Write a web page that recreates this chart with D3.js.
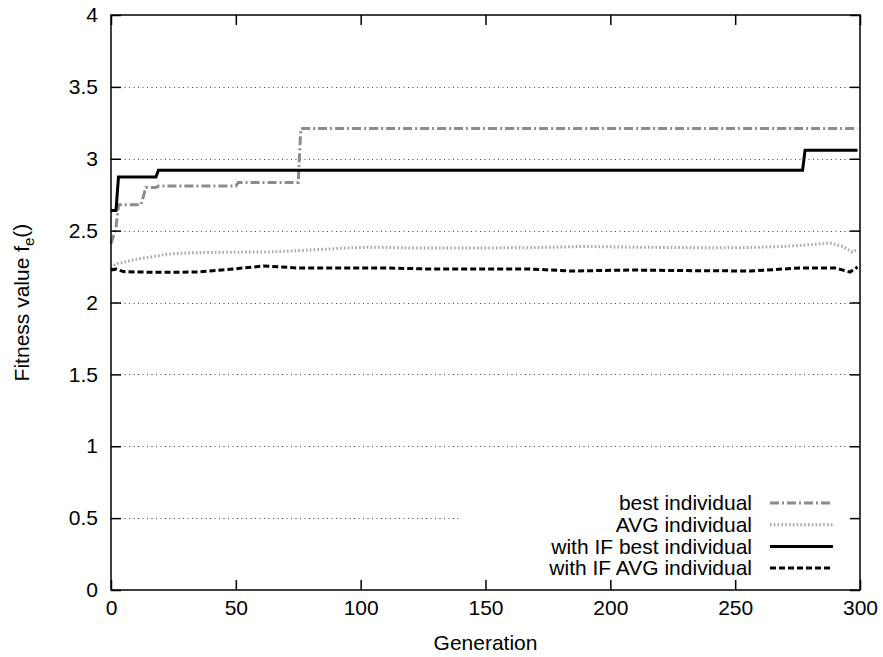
<!DOCTYPE html>
<html>
<head>
<meta charset="utf-8">
<script src="https://cdn.jsdelivr.net/npm/d3@7"></script>
<style>
  html, body { margin: 0; padding: 0; background: #fff; }
  svg { display: block; font-family: "Liberation Sans", Arial, Helvetica, sans-serif; }
</style>
</head>
<body>
<svg id="chart" width="883" height="657"></svg>
<script>
// ---- data ----
const xTicks = [0, 50, 100, 150, 200, 250, 300];
const yTicks = [0, 0.5, 1, 1.5, 2, 2.5, 3, 3.5, 4];
const yTickLabels = ["0", "0.5", "1", "1.5", "2", "2.5", "3", "3.5", "4"];

const seriesNames = ["best individual", "AVG individual", "with IF best individual", "with IF AVG individual"];

const bestGen = [0, 2, 3, 12, 14, 18, 19, 50, 51, 75, 76, 299];
const bestVal = [2.41, 2.52, 2.68, 2.68, 2.80, 2.80, 2.81, 2.81, 2.835, 2.835, 3.21, 3.21];

const avgGen = [0, 2, 4, 10, 16, 22, 29, 45, 62, 80, 94, 105, 120, 148, 170, 190, 208, 230, 250, 270, 282, 288, 293, 297, 299];
const avgVal = [2.24, 2.27, 2.275, 2.30, 2.317, 2.335, 2.344, 2.35, 2.351, 2.365, 2.379, 2.385, 2.379, 2.379, 2.382, 2.39, 2.385, 2.382, 2.38, 2.39, 2.405, 2.414, 2.39, 2.351, 2.37];

const ifBestGen = [0, 2, 3, 18, 19, 277, 278, 299];
const ifBestVal = [2.64, 2.64, 2.873, 2.873, 2.92, 2.92, 3.06, 3.06];

const ifAvgGen = [0, 2, 5, 10, 20, 35, 50, 61, 75, 94, 110, 128, 150, 168, 184, 208, 230, 256, 276, 290, 296, 299];
const ifAvgVal = [2.226, 2.232, 2.215, 2.212, 2.21, 2.212, 2.235, 2.254, 2.24, 2.24, 2.24, 2.233, 2.233, 2.233, 2.219, 2.226, 2.222, 2.219, 2.24, 2.24, 2.212, 2.247];

(function () {
// ---- layout ----
const svg = d3.select("#chart");
const mLeft = 111, mRight = 860, mTop = 15, mBottom = 590;
const x = d3.scaleLinear().domain([0, 300]).range([mLeft, mRight]);
const y = d3.scaleLinear().domain([0, 4]).range([mBottom, mTop]);
const fontSize = 21;

// legend box extent (opaque key in gnuplot)
const keyLeft = 460, keyTop = 482;

// grid
const grid = svg.append("g");
yTicks.filter(v => v > 0 && v < 4).forEach(v => {
  const xEnd = (y(v) > keyTop) ? keyLeft : mRight;
  grid.append("line")
    .attr("x1", mLeft).attr("x2", xEnd)
    .attr("y1", Math.round(y(v)) + 0.5).attr("y2", Math.round(y(v)) + 0.5)
    .attr("stroke", "#444").attr("stroke-width", 1)
    .attr("stroke-dasharray", "1,3.5");
});

// series
const series = [
  { name: seriesNames[0], gen: bestGen, val: bestVal, color: "#8c8c8c", dash: "9,3,2,3", width: 3 },
  { name: seriesNames[1], gen: avgGen, val: avgVal, color: "#a8a8a8", dash: "1.6,2.2", width: 3 },
  { name: seriesNames[2], gen: ifBestGen, val: ifBestVal, color: "#000000", dash: null, width: 3 },
  { name: seriesNames[3], gen: ifAvgGen, val: ifAvgVal, color: "#000000", dash: "6,3", width: 3 }
];

const line = d3.line().x(d => x(d[0])).y(d => y(d[1]));
const plot = svg.append("g");
series.forEach(s => {
  const pts = s.gen.map((g, i) => [g, s.val[i]]);
  plot.append("path")
    .attr("d", line(pts))
    .attr("fill", "none")
    .attr("stroke", s.color)
    .attr("stroke-width", s.width)
    .attr("stroke-linejoin", "miter")
    .attr("stroke-dasharray", s.dash);
});

// legend (opaque)
svg.append("rect")
  .attr("x", keyLeft).attr("y", keyTop)
  .attr("width", mRight - keyLeft - 1).attr("height", mBottom - keyTop - 1)
  .attr("fill", "#fff");
const legend = svg.append("g");
const rowY0 = 503, rowStep = 21.7;
series.forEach((s, i) => {
  const ry = rowY0 + i * rowStep;
  legend.append("text")
    .attr("x", 752).attr("y", ry)
    .attr("dy", "0.35em")
    .attr("text-anchor", "end")
    .attr("font-size", fontSize)
    .attr("fill", "#000")
    .text(s.name);
  legend.append("line")
    .attr("x1", 770).attr("x2", 833)
    .attr("y1", ry).attr("y2", ry)
    .attr("stroke", s.color)
    .attr("stroke-width", s.width)
    .attr("stroke-dasharray", s.dash);
});

// axes (ticks pointing inward, mirrored)
const axL = d3.axisLeft(y).tickValues(yTicks).tickSize(-10).tickPadding(13)
  .tickFormat((d, i) => yTickLabels[i]);
const axR = d3.axisRight(y).tickValues(yTicks).tickSize(-10).tickFormat("");
const axB = d3.axisBottom(x).tickValues(xTicks).tickSize(-10).tickPadding(10);
const axT = d3.axisTop(x).tickValues(xTicks).tickSize(-10).tickFormat("");

function styleAxis(g) {
  g.select(".domain").remove();
  g.selectAll(".tick line").attr("stroke", "#000").attr("stroke-width", 1.5);
  g.selectAll(".tick text").attr("font-size", fontSize).attr("fill", "#000")
    .attr("font-family", "Liberation Sans, Arial, sans-serif");
}
svg.append("g").attr("transform", `translate(${mLeft},0)`).call(axL).call(styleAxis);
svg.append("g").attr("transform", `translate(${mRight},0)`).call(axR).call(styleAxis);
svg.append("g").attr("transform", `translate(0,${mBottom})`).call(axB).call(styleAxis);
svg.append("g").attr("transform", `translate(0,${mTop})`).call(axT).call(styleAxis);

// frame
svg.append("rect")
  .attr("x", mLeft).attr("y", mTop)
  .attr("width", mRight - mLeft).attr("height", mBottom - mTop)
  .attr("fill", "none").attr("stroke", "#000").attr("stroke-width", 1.5);

// axis titles
svg.append("text")
  .attr("x", (mLeft + mRight) / 2).attr("y", 643)
  .attr("dy", "0.35em")
  .attr("text-anchor", "middle")
  .attr("font-size", fontSize)
  .text("Generation");

const yl = svg.append("text")
  .attr("transform", `translate(22,${(mTop + mBottom) / 2}) rotate(-90)`)
  .attr("text-anchor", "middle")
  .attr("dy", "0.35em")
  .attr("font-size", fontSize);
yl.append("tspan").text("Fitness value f");
yl.append("tspan").attr("font-size", 15).attr("dy", "0.3em").text("e");
yl.append("tspan").attr("dy", "-0.3em").text("()");
})();
</script>
</body>
</html>
